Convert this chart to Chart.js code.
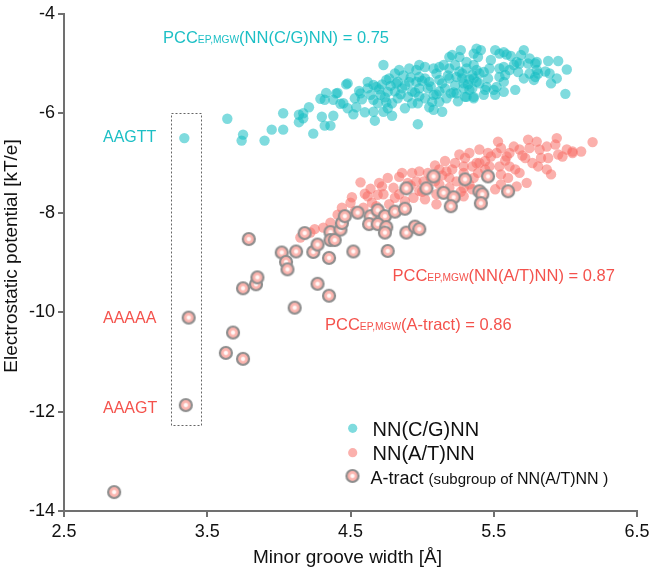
<!DOCTYPE html>
<html><head><meta charset="utf-8">
<script src="https://cdn.jsdelivr.net/npm/chart.js@4/dist/chart.umd.min.js"></script>
<style>html,body{margin:0;padding:0;background:#fff;}canvas{display:block}</style>
</head><body>
<canvas id="c" width="661" height="570"></canvas>
<script>
// ---- data (minor groove width [Å], electrostatic potential [kT/e]) ----
const cgX=[3.34,3.64,3.75,3.74,3.90,3.95,4.03,4.03,4.14,4.14,4.17,4.21,4.24,4.29,4.33,4.32,4.30,4.32,4.17,4.36,4.38,4.38,4.41,4.43,4.47,4.48,4.52,4.53,4.57,4.60,4.62,4.66,4.67,4.66,4.66,4.64,4.71,4.73,4.79,4.75,4.76,4.77,4.73,4.75,4.68,4.84,4.83,4.86,4.83,4.79,4.90,4.93,4.97,4.91,4.96,4.98,4.98,4.97,5.02,5.08,5.05,5.08,5.12,5.17,5.08,5.14,5.15,5.21,5.23,5.24,5.19,5.28,5.31,5.36,5.38,5.35,5.29,5.31,5.36,5.38,5.39,5.27,5.41,5.51,5.57,5.62,5.71,5.69,5.75,5.80,5.88,5.95,6.01,5.89,5.94,5.90,6.00,5.75,5.80,5.67,5.57,5.54,5.38,5.40,5.45,5.33,5.30,5.24,5.19,5.26,5.12,4.98,4.91,4.82,4.48,4.40,4.45,5.07,5.29,5.36,5.57,5.52,5.65,5.71,5.78,5.66,5.61,5.48,5.36,5.31,5.28,5.12,4.96,5.43,5.35,5.44,5.50,5.57,5.51,5.43,5.36,5.54,5.64,5.58,5.74,5.79,5.81,5.79,5.59,5.54,4.81,4.87,4.93,5.02,5.04,5.16,5.23,5.10,5.19,5.25,4.69,4.58,4.54,4.76,5.05,4.98,4.81,5.12,5.33,5.46,5.47,5.68,5.86,4.70,4.78,4.88,4.95,5.00,5.06,5.14,5.20,5.26,4.62,4.85,4.92,5.10,5.18,5.32,4.56,4.72,5.02,5.22,5.40,4.88,4.74];
const cgY=[-6.50,-6.11,-6.43,-6.55,-6.55,-6.33,-6.33,-6.00,-6.03,-6.18,-6.00,-5.88,-6.41,-5.71,-5.59,-5.73,-6.07,-6.25,-6.10,-6.25,-6.05,-5.73,-5.59,-5.81,-5.42,-5.90,-6.02,-5.70,-5.60,-5.98,-5.37,-5.43,-6.15,-5.97,-5.73,-5.63,-5.63,-5.97,-6.05,-5.78,-5.57,-5.30,-5.03,-5.33,-5.47,-5.13,-5.37,-5.50,-5.70,-5.80,-5.67,-5.80,-6.22,-5.37,-5.13,-5.27,-5.50,-5.80,-5.07,-5.10,-5.37,-5.63,-5.77,-5.70,-5.93,-5.97,-5.03,-4.83,-5.03,-5.27,-5.30,-5.30,-5.10,-5.03,-5.37,-5.50,-5.50,-5.67,-5.67,-4.70,-4.87,-4.73,-4.73,-4.73,-4.77,-4.85,-4.73,-4.83,-4.90,-4.97,-4.95,-4.95,-5.12,-5.20,-5.30,-5.40,-5.61,-5.20,-5.13,-5.17,-5.07,-5.27,-5.13,-5.40,-5.47,-5.53,-5.67,-5.60,-4.87,-4.87,-5.07,-5.03,-5.10,-5.40,-5.40,-5.60,-5.80,-5.77,-5.40,-5.30,-5.37,-5.47,-5.53,-5.30,-5.33,-4.97,-5.13,-4.93,-4.80,-4.97,-5.20,-5.33,-5.37,-5.17,-5.23,-5.53,-5.53,-5.57,-5.63,-5.63,-5.70,-5.10,-5.03,-5.23,-5.00,-5.00,-5.20,-5.27,-4.82,-4.80,-5.56,-5.24,-5.56,-5.70,-5.50,-5.50,-5.44,-5.20,-5.10,-5.76,-5.80,-5.72,-5.88,-5.90,-5.88,-5.66,-5.20,-5.56,-5.32,-5.30,-5.10,-5.00,-5.16,-5.52,-5.45,-5.44,-5.58,-5.35,-5.46,-5.40,-5.60,-5.16,-5.50,-5.62,-5.28,-5.62,-5.24,-5.42,-5.55,-5.42,-5.30,-5.58,-5.20,-5.90,-5.68];
const atX=[4.57,4.51,4.64,4.62,4.72,4.73,4.80,4.81,4.86,4.93,4.98,4.96,5.01,5.09,5.10,5.02,4.94,4.84,4.88,4.77,4.68,4.59,4.53,4.36,4.31,4.25,4.65,4.50,5.12,5.17,5.21,5.26,5.30,5.33,5.40,5.35,5.29,5.29,5.38,5.39,5.44,5.47,5.48,5.52,5.53,5.55,5.59,5.61,5.54,5.55,5.60,5.65,5.64,5.68,5.74,5.75,5.80,5.82,5.87,5.83,5.81,5.87,5.90,5.93,5.94,5.95,5.98,6.01,6.05,6.11,6.19,5.73,5.66,5.55,5.51,5.29,5.10,5.19,5.24,5.12,5.09,5.33,5.29,5.19,5.35,5.16,5.23,5.04,4.90,4.76,4.69,4.44,4.41,5.40,5.72,5.77,5.68,5.46,5.61,5.88,6.05,4.98,5.23,4.22,4.15,4.92,5.06,5.14,5.36,5.44,5.58,5.70,4.84,4.70,4.60,5.00,5.27];
const atY=[-7.39,-7.69,-7.52,-7.67,-7.47,-7.63,-7.50,-7.70,-7.20,-7.20,-7.17,-7.37,-7.37,-7.05,-7.63,-7.73,-7.70,-7.63,-7.77,-7.83,-7.87,-7.90,-7.97,-8.20,-8.30,-8.33,-7.80,-7.80,-7.13,-7.17,-7.13,-6.83,-6.90,-6.80,-6.73,-7.07,-7.07,-7.20,-7.00,-7.20,-7.13,-7.07,-6.87,-6.80,-6.57,-6.70,-6.87,-7.07,-7.07,-7.23,-7.30,-7.13,-6.67,-6.73,-6.53,-6.70,-6.57,-6.73,-6.67,-6.90,-7.07,-7.13,-7.23,-6.63,-6.50,-6.83,-6.87,-6.73,-6.77,-6.77,-6.58,-7.40,-7.47,-7.43,-7.53,-7.67,-7.83,-7.50,-7.37,-7.43,-7.37,-7.43,-7.50,-7.30,-7.53,-6.96,-7.00,-7.20,-7.40,-7.30,-7.64,-7.90,-8.04,-7.00,-6.90,-7.00,-7.20,-6.80,-6.80,-6.90,-6.80,-7.56,-7.70,-8.40,-8.50,-7.45,-7.30,-7.25,-7.30,-6.96,-6.95,-6.85,-7.28,-7.40,-7.62,-7.58,-7.58];
const trX=[2.85,3.35,3.37,3.63,3.68,3.75,3.75,3.84,3.85,3.79,4.02,4.05,4.06,4.12,4.11,4.18,4.24,4.27,4.27,4.35,4.36,4.36,4.39,4.35,4.43,4.44,4.46,4.52,4.55,4.64,4.69,4.74,4.63,4.69,4.75,4.74,4.81,4.88,4.89,4.95,4.98,4.76,5.08,4.89,5.03,5.30,5.46,5.15,5.22,5.20,5.40,5.42,5.41,5.60];
const trY=[-13.62,-11.87,-10.11,-10.82,-10.41,-10.94,-9.52,-9.44,-9.30,-8.53,-8.80,-8.99,-9.14,-8.78,-9.91,-8.41,-8.79,-8.64,-9.43,-9.67,-8.39,-8.55,-8.55,-8.91,-8.34,-8.21,-8.07,-8.78,-8.00,-8.07,-7.95,-8.07,-8.23,-8.23,-8.29,-8.40,-7.98,-7.92,-8.40,-8.28,-8.33,-8.77,-7.27,-7.51,-7.51,-7.33,-7.27,-7.60,-7.69,-7.87,-7.57,-7.63,-7.81,-7.57];
const xTicks=[2.5,3.5,4.5,5.5,6.5];
const yTicks=[-14,-12,-10,-8,-6,-4];
const seriesNames=['NN(C/G)NN','NN(A/T)NN','A-tract'];

const FONT='"Liberation Sans", Arial, Helvetica, sans-serif';
const CYAN_TXT='#1cbfc5', RED_TXT='#f4524c';
const CYAN_PT='rgba(22,190,195,0.55)', SAL_PT='rgba(248,112,104,0.55)';

function zip(xs,ys){return xs.map((x,i)=>({x:x,y:ys[i]}));}
function makeAtract(){
  const s=18,c=document.createElement('canvas');c.width=s;c.height=s;
  const g=c.getContext('2d'),m=s/2,r=6;
  const gr=g.createRadialGradient(m,m,0,m,m,r);
  gr.addColorStop(0,'#ffffff');gr.addColorStop(0.25,'#fff4f2');gr.addColorStop(0.45,'#fcbab4');gr.addColorStop(1,'#f9a9a3');
  g.beginPath();g.arc(m,m,r,0,Math.PI*2);g.fillStyle=gr;g.fill();
  g.lineWidth=2.2;g.strokeStyle='#8e8e8e';g.stroke();
  return c;
}
const atImg=makeAtract();

function drawPCC(ctx,x,y,main,color,size){
  ctx.fillStyle=color;ctx.textAlign='left';ctx.textBaseline='alphabetic';
  ctx.font=size+'px '+FONT;ctx.fillText('PCC',x,y);x+=ctx.measureText('PCC').width;
  ctx.font=(size*0.62)+'px '+FONT;ctx.fillText('EP,MGW',x,y);x+=ctx.measureText('EP,MGW').width;
  ctx.font=size+'px '+FONT;ctx.fillText(main,x,y);
}

const deco={id:'deco',afterDatasetsDraw(chart){
  const ctx=chart.ctx,xs=chart.scales.x,ys=chart.scales.y;
  ctx.save();
  ctx.setLineDash([2,2]);ctx.lineWidth=1;ctx.strokeStyle='#666';
  const bx0=xs.getPixelForValue(3.247),bx1=xs.getPixelForValue(3.454),by0=ys.getPixelForValue(-5.99),by1=ys.getPixelForValue(-12.27);
  ctx.strokeRect(Math.round(bx0)+0.5,Math.round(by0)+0.5,Math.round(bx1-bx0),Math.round(by1-by0));
  ctx.setLineDash([]);
  drawPCC(ctx,163,43,'(NN(C/G)NN) = 0.75',CYAN_TXT,16.5);
  drawPCC(ctx,392.5,280.5,'(NN(A/T)NN) = 0.87',RED_TXT,16.5);
  drawPCC(ctx,325,329.5,'(A-tract) = 0.86',RED_TXT,16.5);
  ctx.font='16px '+FONT;ctx.textAlign='left';
  ctx.fillStyle=CYAN_TXT;ctx.fillText('AAGTT',103,141.5);
  ctx.fillStyle=RED_TXT;ctx.fillText('AAAAA',103,322.5);ctx.fillText('AAAGT',103,412.5);
  ctx.beginPath();ctx.arc(352.7,428.3,4.6,0,Math.PI*2);ctx.fillStyle=CYAN_PT;ctx.fill();
  ctx.beginPath();ctx.arc(352.7,452.7,4.6,0,Math.PI*2);ctx.fillStyle=SAL_PT;ctx.fill();
  ctx.drawImage(atImg,352.5-9,476-9);
  ctx.fillStyle='#111';
  ctx.font='20px '+FONT;ctx.fillText(seriesNames[0],372.5,436);ctx.fillText(seriesNames[1],372.5,460);
  ctx.font='18px '+FONT;ctx.fillText(seriesNames[2],370.5,484);
  let lx=370.5+ctx.measureText(seriesNames[2]).width+5;
  ctx.font='15px '+FONT;ctx.fillText('(subgroup of ',lx,484);lx+=ctx.measureText('(subgroup of ').width;
  ctx.font='16px '+FONT;ctx.fillText('NN(A/T)NN )',lx,484);
  ctx.fillStyle='#111';ctx.font='19px '+FONT;ctx.textAlign='center';
  ctx.fillText('Minor groove width [Å]',347.5,563);
  ctx.translate(17,256);ctx.rotate(-Math.PI/2);ctx.fillText('Electrostatic potential [kT/e]',0,0);
  ctx.restore();
}};

Chart.defaults.font.family=FONT;
new Chart(document.getElementById('c'),{
  type:'scatter',
  data:{datasets:[
    {label:seriesNames[2],data:zip(trX,trY),pointStyle:atImg,pointRadius:6,order:0},
    {label:seriesNames[1],data:zip(atX,atY),backgroundColor:SAL_PT,borderWidth:0,pointRadius:5.2,order:1},
    {label:seriesNames[0],data:zip(cgX,cgY),backgroundColor:CYAN_PT,borderWidth:0,pointRadius:5.2,order:2}
  ]},
  options:{
    responsive:false,animation:false,devicePixelRatio:1,
    layout:{padding:{top:10,right:24,left:0,bottom:0}},
    plugins:{legend:{display:false},tooltip:{enabled:false}},
    elements:{point:{hoverRadius:0}},
    scales:{
      x:{type:'linear',min:2.5,max:6.5,
        afterBuildTicks:s=>{s.ticks=xTicks.map(v=>({value:v}));},
        afterFit:s=>{s.height=59;},
        grid:{drawOnChartArea:false,drawTicks:true,tickLength:6,color:'#707070',lineWidth:2},
        border:{color:'#707070',width:2},
        ticks:{color:'#111',font:{size:18},padding:4,maxRotation:0,autoSkip:false}},
      y:{type:'linear',min:-14,max:-4,
        afterBuildTicks:s=>{s.ticks=yTicks.map(v=>({value:v}));},
        afterFit:s=>{s.width=64;},
        grid:{drawOnChartArea:false,drawTicks:true,tickLength:6,color:'#707070',lineWidth:2},
        border:{color:'#707070',width:2},
        ticks:{color:'#111',font:{size:18},padding:3,autoSkip:false}}
    }
  },
  plugins:[deco]
});
</script>
</body></html>
